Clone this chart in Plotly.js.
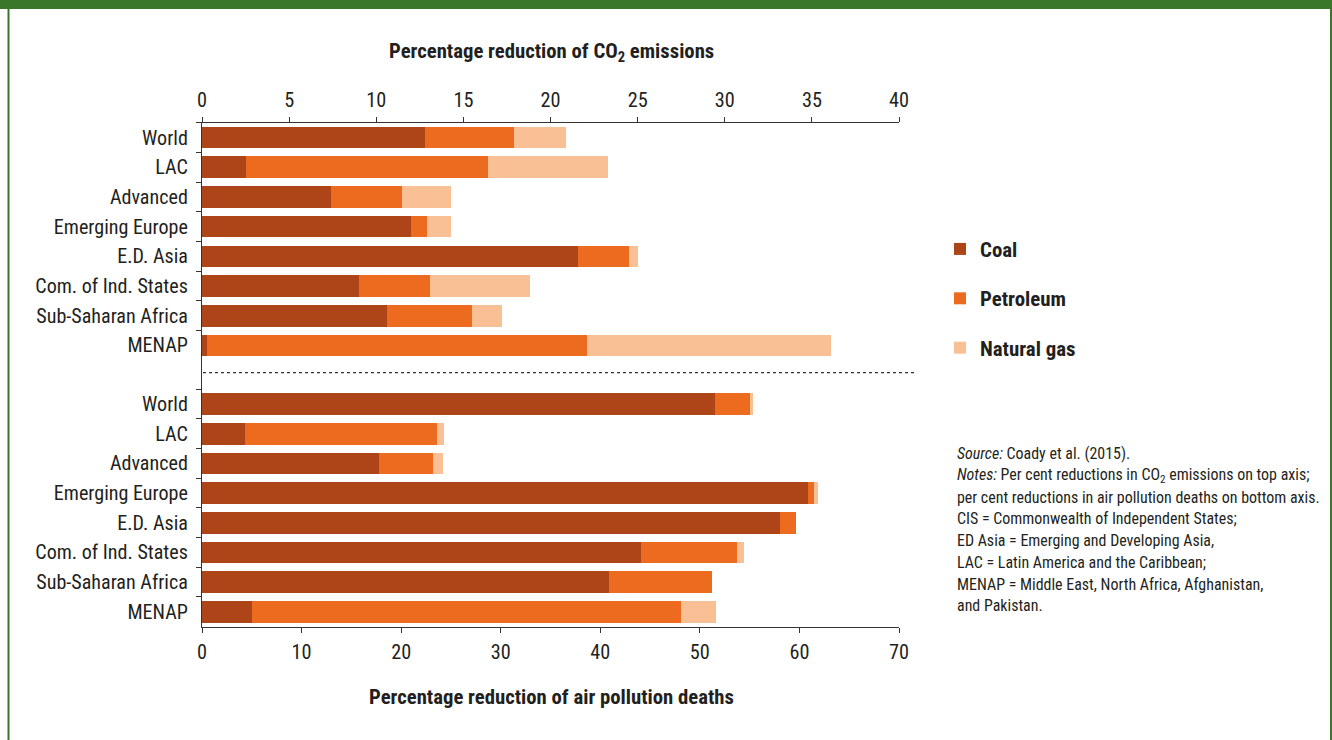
<!DOCTYPE html>
<html>
<head>
<meta charset="utf-8">
<script src="https://cdn.plot.ly/plotly-3.0.1.min.js"></script>
<style>html,body{margin:0;padding:0;background:#fff;}#chart{width:1332px;height:740px;}</style>
</head>
<body>
<div id="chart"></div>
<script>
// ---- Data ----
const regions = ["World", "LAC", "Advanced", "Emerging Europe", "E.D. Asia", "Com. of Ind. States", "Sub-Saharan Africa", "MENAP"];
const seriesNames = ["Coal", "Petroleum", "Natural gas"];

// Percentage reduction of CO2 emissions (top axis), per-fuel segments
const co2Coal      = [12.8, 2.5, 7.4, 12.0, 21.6, 9.0, 10.6, 0.3];
const co2Petroleum = [5.1, 13.9, 4.1, 0.9, 2.9, 4.1, 4.9, 21.8];
const co2Gas       = [3.0, 6.9, 2.8, 1.4, 0.5, 5.7, 1.7, 14.0];

// Percentage reduction of air pollution deaths (bottom axis), per-fuel segments
const deathsCoal      = [51.5, 4.3, 17.8, 60.9, 58.0, 44.1, 40.9, 5.0];
const deathsPetroleum = [3.5, 19.3, 5.4, 0.6, 1.7, 9.6, 10.3, 43.1];
const deathsGas       = [0.3, 0.7, 1.0, 0.4, 0.0, 0.7, 0.0, 3.5];

const topTicks = [0, 5, 10, 15, 20, 25, 30, 35, 40];
const bottomTicks = [0, 10, 20, 30, 40, 50, 60, 70];

const topTitle = "Percentage reduction of CO<sub>2</sub> emissions";
const bottomTitle = "Percentage reduction of air pollution deaths";
const noteLines = [
  "<i>Source:</i> Coady et al. (2015).",
  "<i>Notes:</i> Per cent reductions in CO<sub>2</sub> emissions on top axis;",
  "per cent reductions in air pollution deaths on bottom axis.",
  "CIS = Commonwealth of Independent States;",
  "ED Asia = Emerging and Developing Asia,",
  "LAC = Latin America and the Caribbean;",
  "MENAP = Middle East, North Africa, Afghanistan,",
  "and Pakistan."
];

// ---- Font selection (narrow face if installed) and sizing to match reference widths ----
const cv = document.createElement("canvas").getContext("2d");
function tw(text, fam, weight, size) { cv.font = weight + " " + size + "px " + fam; return cv.measureText(text).width; }
function hasFont(f) {
  const s = "abcdefghijklmnopqrstuvwxyzABCDEFGHIJ0123456789";
  return ["monospace", "serif"].some(b => Math.abs(tw(s, "'" + f + "', " + b, "normal", 40) - tw(s, b, "normal", 40)) > 0.5);
}
const candidates = ["Liberation Sans Narrow", "Arial Narrow", "Noto Sans Condensed", "Noto Sans SemiCondensed", "Roboto Condensed", "DejaVu Sans Condensed", "Liberation Sans"];
let FAMILY = "sans-serif";
for (const c of candidates) { if (hasFont(c)) { FAMILY = "'" + c + "'"; break; } }
const FONT = FAMILY + ", 'DejaVu Sans Condensed', sans-serif";
function fit(text, weight, target) { return +(100 * target / tw(text, FONT, weight, 100)).toFixed(2); }

const sYLab = fit("Emerging Europe", "normal", 134);
const sXTick = fit("10", "normal", 20);
const sTitle = fit(bottomTitle, "bold", 365);
const sLegend = fit("Petroleum", "bold", 86);
const sNote = fit("per cent reductions in air pollution deaths on bottom axis.", "normal", 363);

// ---- Styling ----
const colors = ["#AE4519", "#EC6B1E", "#F8C094"];
const TXT = "#231f20";
const W = 1332, H = 740;
const px = v => v / W;
const py = v => 1 - v / H;

const topSets = [co2Coal, co2Petroleum, co2Gas];
const botSets = [deathsCoal, deathsPetroleum, deathsGas];

const traces = [];
seriesNames.forEach((name, i) => {
  traces.push({
    type: "bar", orientation: "h", name: name,
    x: topSets[i], y: regions, xaxis: "x", yaxis: "y",
    marker: {color: colors[i], line: {width: 0}}, width: 0.73,
    legendgroup: name, showlegend: true, hoverinfo: "x+y+name"
  });
});
seriesNames.forEach((name, i) => {
  traces.push({
    type: "bar", orientation: "h", name: name,
    x: botSets[i], y: regions, xaxis: "x2", yaxis: "y2",
    marker: {color: colors[i], line: {width: 0}}, width: 0.73,
    legendgroup: name, showlegend: false, hoverinfo: "x+y+name"
  });
});

const xDom = [px(202), px(899)];
const split = py(372);
const topDom = [split, py(122.7)];
const botDom = [py(626.5), split];

const axisCommon = {
  showgrid: false, zeroline: false, showline: true, linecolor: "#333", linewidth: 1.2,
  ticks: "outside", ticklen: 5, tickwidth: 1.2, tickcolor: "#333", fixedrange: true
};
const xTickFont = {family: FONT, size: sXTick, color: TXT};
const yTickFont = {family: FONT, size: sYLab, color: TXT};

const annotations = [
  {text: topTitle, xref: "paper", yref: "paper",
   x: px(551), y: py(52.5), xanchor: "center", yanchor: "middle", showarrow: false,
   font: {family: FONT, size: sTitle, color: TXT, weight: "bold"}},
  {text: bottomTitle, xref: "paper", yref: "paper",
   x: px(551), y: py(697), xanchor: "center", yanchor: "middle", showarrow: false,
   font: {family: FONT, size: sTitle, color: TXT, weight: "bold"}}
];
const noteY = [453, 475, 497, 518, 540, 562, 584, 605];
noteLines.forEach((t, i) => {
  annotations.push({text: t, xref: "paper", yref: "paper", x: px(955), y: py(noteY[i]),
    xanchor: "left", yanchor: "middle", showarrow: false, align: "left",
    font: {family: FONT, size: sNote, color: TXT}});
});

const green = "#3B772A";
const shapes = [
  {type: "rect", xref: "paper", yref: "paper", x0: 0, x1: 1, y0: py(9), y1: 1, fillcolor: green, line: {width: 0}},
  {type: "line", xref: "paper", yref: "paper", x0: px(8.5), x1: px(8.5), y0: 0, y1: 1, line: {color: green, width: 2}},
  {type: "line", xref: "paper", yref: "paper", x0: px(1331), x1: px(1331), y0: 0, y1: 1, line: {color: green, width: 2}},
  {type: "line", xref: "paper", yref: "paper", x0: px(203), x1: px(915), y0: py(372.7), y1: py(372.7), line: {color: "#333", width: 1.2, dash: "dot"}}
];

const itemH = 1.45 * sLegend;
const layout = {
  width: W, height: H, margin: {l: 0, r: 0, t: 0, b: 0},
  paper_bgcolor: "#fff", plot_bgcolor: "rgba(0,0,0,0)",
  barmode: "stack", bargap: 0.27,
  font: {family: FONT, color: TXT},
  showlegend: true,
  legend: {x: px(940), y: py(249 - (itemH / 2 + 5)), xanchor: "left", yanchor: "top", traceorder: "grouped",
    tracegroupgap: Math.max(0, 49.5 - itemH), font: {family: FONT, size: sLegend, color: TXT, weight: "bold"},
    bgcolor: "rgba(0,0,0,0)", itemclick: false, itemdoubleclick: false},
  xaxis: Object.assign({}, axisCommon, {domain: xDom, anchor: "y", side: "top", range: [0, 40],
    tickvals: topTicks, ticktext: topTicks.map(String), tickfont: xTickFont, ticklabelstandoff: 1}),
  xaxis2: Object.assign({}, axisCommon, {domain: xDom, anchor: "y2", side: "bottom", range: [0, 70],
    tickvals: bottomTicks, ticktext: bottomTicks.map(String), tickfont: xTickFont, ticklabelstandoff: 2}),
  yaxis: Object.assign({}, axisCommon, {domain: topDom, anchor: "x", type: "category",
    categoryorder: "array", categoryarray: regions, range: [7.894, -0.5], tickson: "boundaries",
    ticklabelstandoff: 9, tickfont: yTickFont}),
  yaxis2: Object.assign({}, axisCommon, {domain: botDom, anchor: "x2", type: "category",
    categoryorder: "array", categoryarray: regions, range: [7.5, -1.083], tickson: "boundaries",
    ticklabelstandoff: 9, tickfont: yTickFont}),
  annotations: annotations,
  shapes: shapes
};

Plotly.newPlot("chart", traces, layout, {displayModeBar: false});
</script>
</body>
</html>
